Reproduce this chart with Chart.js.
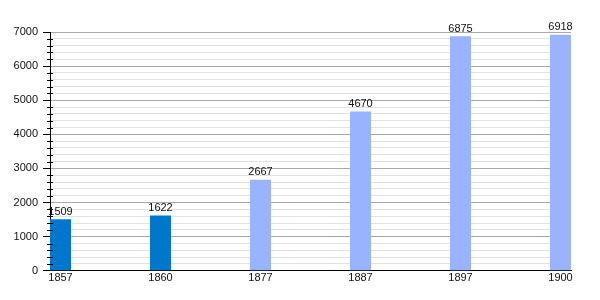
<!DOCTYPE html>
<html>
<head>
<meta charset="utf-8">
<script src="https://cdn.jsdelivr.net/npm/chart.js@4"></script>
<style>
  html, body { margin: 0; padding: 0; background: #fff; }
  #wrap { width: 600px; height: 300px; }
</style>
</head>
<body>
<div id="wrap"><canvas id="chart" width="600" height="300"></canvas></div>
<script>
const years = ["1857", "1860", "1877", "1887", "1897", "1900"];
const population = [1509, 1622, 2667, 4670, 6875, 6918];
const barColors = ["#0077cc", "#0077cc", "#99b3ff", "#99b3ff", "#99b3ff", "#99b3ff"];

const FONT = "'Liberation Sans', Arial, sans-serif";

// value labels on top of each bar
const valueLabels = {
  id: "valueLabels",
  afterDatasetsDraw(chart) {
    const ctx = chart.ctx;
    const meta = chart.getDatasetMeta(0);
    ctx.save();
    ctx.font = "11px " + FONT;
    ctx.fillStyle = "#111";
    ctx.textAlign = "center";
    ctx.textBaseline = "bottom";
    meta.data.forEach((bar, i) => {
      ctx.fillText(String(population[i]), bar.x, bar.y - 2);
    });
    ctx.restore();
  }
};

// short minor tick marks crossing the y axis
const minorTicks = {
  id: "minorTicks",
  afterDraw(chart) {
    const y = chart.scales.y;
    const ctx = chart.ctx;
    ctx.save();
    ctx.strokeStyle = "#000";
    ctx.lineWidth = 1;
    y.ticks.forEach((t) => {
      if (t.value % 1000 === 0) return;
      const py = Math.round(y.getPixelForValue(t.value)) + 0.5;
      ctx.beginPath();
      ctx.moveTo(y.right - 3, py);
      ctx.lineTo(y.right + 3, py);
      ctx.stroke();
    });
    ctx.restore();
  }
};

new Chart(document.getElementById("chart"), {
  type: "bar",
  data: {
    datasets: [{
      data: population.map((v, i) => ({ x: i, y: v })),
      backgroundColor: barColors,
      barPercentage: 1,
      categoryPercentage: 0.21,
      borderWidth: 0
    }]
  },
  plugins: [valueLabels, minorTicks],
  options: {
    responsive: false,
    animation: false,
    layout: { padding: { top: 32, right: 29, bottom: 14, left: 0 } },
    plugins: { legend: { display: false }, tooltip: { enabled: false } },
    scales: {
      x: {
        type: "linear",
        offset: false,
        min: -0.105,
        max: 5.105,
        afterBuildTicks: (scale) => { scale.ticks = years.map((_, i) => ({ value: i })); },
        ticks: {
          callback: (v) => years[v],
          color: "#111",
          font: { family: FONT, size: 11 },
          padding: 1,
          maxRotation: 0,
          autoSkip: false
        },
        grid: { display: false, drawTicks: false, offset: false },
        border: { display: true, color: "#000", width: 1 }
      },
      y: {
        min: 0,
        max: 7000,
        afterFit: (scale) => { scale.width = 50; },
        ticks: {
          stepSize: 200,
          autoSkip: false,
          callback: (v) => (v % 1000 === 0 ? String(v) : ""),
          color: "#111",
          font: { family: FONT, size: 11 },
          padding: 5
        },
        grid: {
          color: (c) => (c.tick && c.tick.value % 1000 === 0 ? "#aaaaaa" : "#e2e2e2"),
          tickColor: (c) => (c.tick && c.tick.value % 1000 === 0 ? "#000" : "rgba(0,0,0,0)"),
          tickLength: 7,
          lineWidth: 1
        },
        border: { display: true, color: "#000", width: 1 }
      }
    }
  }
});
</script>
</body>
</html>
